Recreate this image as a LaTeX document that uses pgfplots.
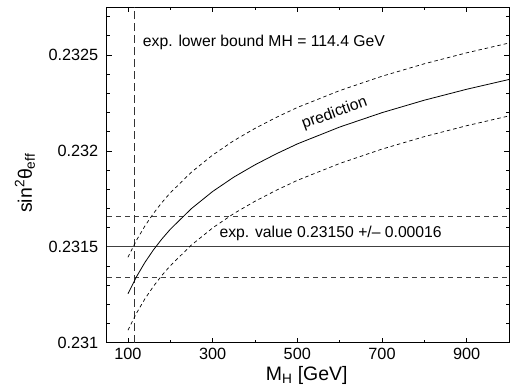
\documentclass[border=0pt]{standalone}
\usepackage{pgfplots}
\pgfplotsset{compat=1.18}
\usepackage{fontspec}
\setmainfont{Liberation Sans}
\begin{document}
\begin{tikzpicture}[font=\fontsize{15.75bp}{18bp}\selectfont]
\begin{axis}[
  scale only axis, width=403bp, height=336.3bp,
  xmin=50, xmax=1000, ymin=0.231, ymax=0.23275,
  xtick={100,300,500,700,900},
  minor xtick={200,400,600,800},
  ytick={0.231,0.2315,0.232,0.2325},
  yticklabels={0.231,0.2315,0.232,0.2325},
  minor ytick={0.2311,0.2312,0.2313,0.2314,0.2316,0.2317,0.2318,0.2319,0.2321,0.2322,0.2323,0.2324,0.2326,0.2327},
  /pgf/number format/assume math mode=true,
  scaled y ticks=false,
  tick align=inside,
  major tick length=5bp, minor tick length=3bp,
  every tick/.style={black, line width=0.6bp},
  axis line style={line width=0.8bp},
  tick label style={font=\fontsize{16.3bp}{19bp}\selectfont},
  yticklabel style={xshift=-5bp},
  xticklabel style={yshift=-2bp},
  label style={font=\fontsize{19.5bp}{22bp}\selectfont},
  xlabel={M\textsubscript{H} [GeV]},
  ylabel={sin\textsuperscript{2}θ\textsubscript{eff}},
  xlabel style={at={(axis description cs:0.497,-0.097)}, anchor=center},
  ylabel style={at={(axis description cs:-0.2035,0.475)}, anchor=center},
]
% experimental value and band
\addplot[black!75, line width=0.8bp] coordinates {(50,0.23150) (1000,0.23150)};
\addplot[black!75, line width=0.8bp, dash pattern=on 5bp off 4bp] coordinates {(50,0.23166) (1000,0.23166)};
\addplot[black!75, line width=0.8bp, dash pattern=on 5bp off 4bp] coordinates {(50,0.23134) (1000,0.23134)};
% lower bound
\addplot[black!80, line width=0.8bp, dash pattern=on 8bp off 4bp] coordinates {(114.4,0.231) (114.4,0.23275)};
% prediction
\addplot[black, line width=0.8bp] coordinates {
(100,0.231255) (120,0.231343) (140,0.231418) (160,0.231483) (180,0.231540)
(200,0.231591) (250,0.231699) (300,0.231788) (350,0.231863) (400,0.231927)
(450,0.231984) (500,0.232036) (600,0.232124) (700,0.232199) (800,0.232264)
(900,0.232321) (1000,0.232372)};
\addplot[black, line width=0.7bp, dash pattern=on 3.5bp off 3bp] coordinates {
(100,0.231445) (120,0.231533) (140,0.231608) (160,0.231673) (180,0.231730)
(200,0.231781) (250,0.231889) (300,0.231978) (350,0.232053) (400,0.232117)
(450,0.232174) (500,0.232226) (600,0.232314) (700,0.232389) (800,0.232454)
(900,0.232511) (1000,0.232562)};
\addplot[black, line width=0.7bp, dash pattern=on 3.5bp off 3bp] coordinates {
(100,0.231065) (120,0.231153) (140,0.231228) (160,0.231293) (180,0.231350)
(200,0.231401) (250,0.231509) (300,0.231598) (350,0.231673) (400,0.231737)
(450,0.231794) (500,0.231846) (600,0.231934) (700,0.232009) (800,0.232074)
(900,0.232131) (1000,0.232182)};
\node[anchor=west, inner sep=0pt] at (axis cs:135,0.232566) {exp. lower bound MH = 114.4 GeV};
\node[anchor=west, inner sep=0pt] at (axis cs:316,0.231568) {exp. value 0.23150 +/– 0.00016};
\node[rotate=20, inner sep=0pt] at (axis cs:588,0.232195) {prediction};
\end{axis}
\path ([shift={(-107bp,-43.7bp)}]current axis.south west) rectangle ([shift={(1bp,7bp)}]current axis.north east);
\end{tikzpicture}
\end{document}
